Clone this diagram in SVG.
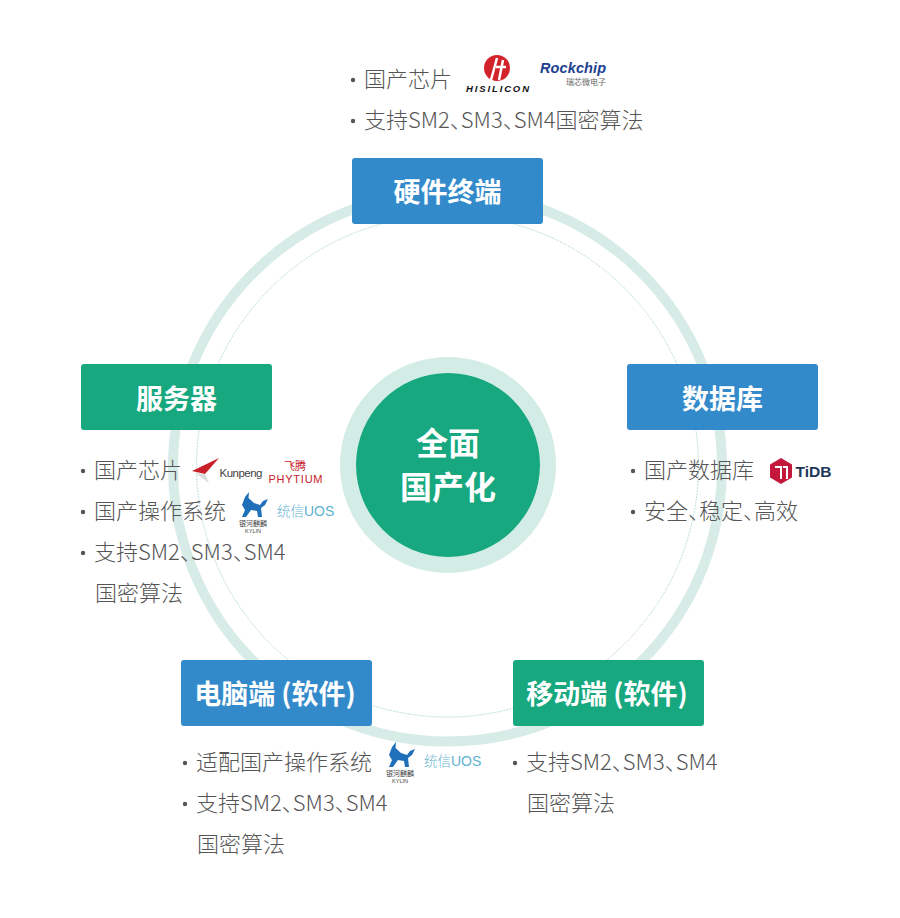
<svg xmlns="http://www.w3.org/2000/svg" width="900" height="918" viewBox="0 0 900 918">
<style>
text{font-family:"Noto Sans CJK SC","Noto Sans",sans-serif}
.b{fill:#338acb}.g{fill:#17a87f}
.t{font-size:27px;font-weight:700;fill:#fff;text-anchor:middle}
.l{font-size:22px;font-weight:300;fill:#555}
.h{font-feature-settings:"halt"}
.d{fill:#555}
.c{font-size:32px;font-weight:700;fill:#fff;text-anchor:middle}
.lg{font-family:"Liberation Sans",sans-serif}
.u{font-size:13.500px;font-weight:300;fill:#62b2cf}
.k{font-size:7px;fill:#444;text-anchor:middle}
.ky{font-size:5.500px;fill:#444;text-anchor:middle}
</style>
<defs>
<path id="bull" d="M0 13L3 5L7 0L6.500 6L12 11L18 13L21 9L26 7L23 13L19 16L20 25L16 25L15 19L9 18L4 25L0 25L3 18Z" fill="#1f70b8"/>
</defs>
<rect width="900" height="918" fill="#fff"/>
<g id="connectors">
<circle cx="447.500" cy="467" r="274.500" fill="none" stroke="#d8ece7" stroke-width="10"/>
<circle cx="447.500" cy="466" r="251" fill="none" stroke="#bcdde0" stroke-width="1" stroke-dasharray="2 1"/>
</g>
<g id="center">
<circle cx="448" cy="465" r="100" fill="#fff" stroke="#d3ece5" stroke-width="16"/>
<circle cx="448" cy="465" r="92" class="g"/>
<text class="c" x="448" y="454.500">全面</text>
<text class="c" x="448" y="498.500">国产化</text>
</g>
<g id="hardware">
<rect x="352" y="158" width="191" height="66" rx="3" class="b"/>
<text class="t" x="447.500" y="201.500">硬件终端</text>
<circle class="d" cx="353" cy="80" r="2.200"/>
<text class="l" x="364" y="87">国产芯片</text>
<circle class="d" cx="353" cy="121" r="2.200"/>
<text class="l h" x="364" y="128">支持SM2、SM3、SM4国密算法</text>
<g id="logo-hisilicon">
<circle cx="497" cy="68" r="13" fill="#d2232a"/>
<path d="M491 80l6-22M496 67h10M503 60l-4 20" stroke="#fff" stroke-width="2.500" fill="none"/>
<text class="lg" x="466" y="92" font-size="9.500" font-weight="700" font-style="italic" fill="#111" textLength="63" lengthAdjust="spacing">HISILICON</text>
</g>
<g id="logo-rockchip">
<text class="lg" x="540" y="72.500" font-size="14.500" font-weight="700" font-style="italic" fill="#1c3f8f" textLength="66" lengthAdjust="spacing">Rockchip</text>
<text x="606" y="85" font-size="8px" fill="#666" text-anchor="end">瑞芯微电子</text>
</g>
</g>
<g id="server">
<rect x="81" y="364" width="191" height="66" rx="3" class="g"/>
<text class="t" x="176.500" y="408.500">服务器</text>
<circle class="d" cx="83" cy="471" r="2.200"/>
<text class="l" x="94" y="478">国产芯片</text>
<circle class="d" cx="83" cy="512" r="2.200"/>
<text class="l" x="94" y="519">国产操作系统</text>
<circle class="d" cx="83" cy="553" r="2.200"/>
<text class="l h" x="94" y="560">支持SM2、SM3、SM4</text>
<text class="l" x="95" y="601">国密算法</text>
<g id="logo-kunpeng">
<path d="M192 471l27-13-14 16z" fill="#c8202a"/>
<path d="M195 473l10 1 4 9z" fill="#dcdcdc"/>
<text class="lg" x="219.500" y="477" font-size="11.500" fill="#444" textLength="43" lengthAdjust="spacing">Kunpeng</text>
</g>
<g id="logo-phytium">
<text x="295" y="470" font-size="11px" fill="#c8202a" text-anchor="middle">飞腾</text>
<text class="lg" x="268.500" y="482.500" font-size="11px" fill="#c8202a" textLength="54" lengthAdjust="spacing">PHYTIUM</text>
</g>
<g id="logo-kylin-1">
<use href="#bull" x="242" y="492"/>
<text class="k" x="253" y="526">银河麒麟</text>
<text class="lg ky" x="253" y="532.500">KYLIN</text>
</g>
<text id="logo-uos-1" class="u" x="277" y="516">统信<tspan class="lg" font-size="14">UOS</tspan></text>
</g>
<g id="database">
<rect x="627" y="364" width="191" height="66" rx="3" class="b"/>
<text class="t" x="722.500" y="408.500">数据库</text>
<circle class="d" cx="633" cy="471" r="2.200"/>
<text class="l" x="644" y="478">国产数据库</text>
<circle class="d" cx="633" cy="512" r="2.200"/>
<text class="l h" x="644" y="519">安全、稳定、高效</text>
<g id="logo-tidb">
<path d="M781 458l11 6.500v13L781 484l-11-6.500v-13z" fill="#c4173c"/>
<path d="M775 467h6v12M783 467h4v12" stroke="#fff" stroke-width="2" fill="none"/>
<text class="lg" x="795.500" y="477" font-size="15.500" font-weight="700" fill="#1d3557">TiDB</text>
</g>
</g>
<g id="pc">
<rect x="181" y="660" width="191" height="66" rx="3" class="b"/>
<text class="t" x="275" y="703.500">电脑端 (软件)</text>
<circle class="d" cx="185" cy="763" r="2.200"/>
<text class="l" x="196" y="770">适配国产操作系统</text>
<circle class="d" cx="185" cy="804" r="2.200"/>
<text class="l h" x="196" y="811">支持SM2、SM3、SM4</text>
<text class="l" x="197" y="852">国密算法</text>
<g id="logo-kylin-2">
<use href="#bull" x="389" y="742"/>
<text class="k" x="400" y="776">银河麒麟</text>
<text class="lg ky" x="400" y="782.500">KYLIN</text>
</g>
<text id="logo-uos-2" class="u" x="424" y="766">统信<tspan class="lg" font-size="14">UOS</tspan></text>
</g>
<g id="mobile">
<rect x="513" y="660" width="191" height="66" rx="3" class="g"/>
<text class="t" x="607" y="703.500">移动端 (软件)</text>
<circle class="d" cx="515" cy="763" r="2.200"/>
<text class="l h" x="526" y="770">支持SM2、SM3、SM4</text>
<text class="l" x="527" y="811">国密算法</text>
</g>
</svg>
